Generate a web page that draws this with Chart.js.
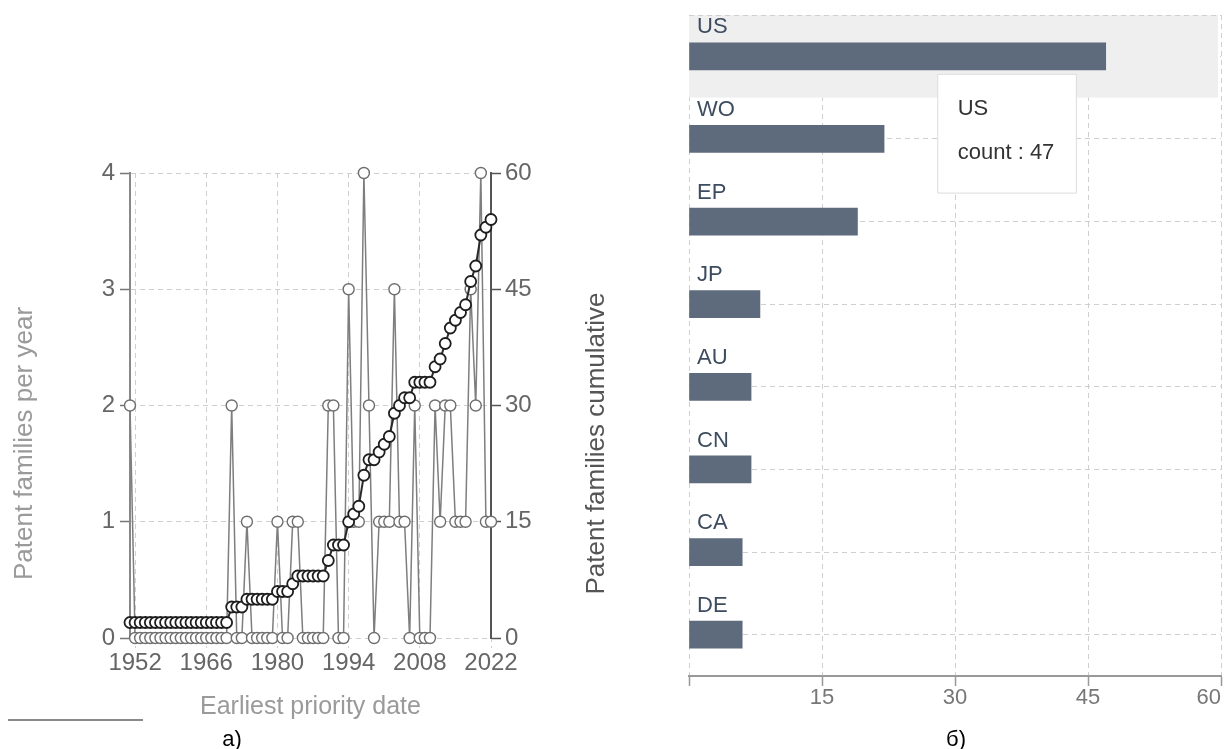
<!DOCTYPE html>
<html>
<head>
<meta charset="utf-8">
<script src="https://cdn.jsdelivr.net/npm/chart.js@4"></script>
<style>
  body { margin: 0; background: #fff; width: 1224px; height: 749px; position: relative; overflow: hidden;
         font-family: 'Liberation Sans', Arial, sans-serif; }
  #left { position: absolute; left: 0; top: 0; }
  #right { position: absolute; left: 660px; top: 0; }
  .rule { position: absolute; left: 8px; top: 719px; width: 135px; height: 2px; background: #8a8a8a; }
  .cap { position: absolute; top: 726px; width: 60px; text-align: center; font-size: 22px; color: #000; }
</style>
</head>
<body>
<canvas id="left" width="650" height="749"></canvas>
<canvas id="right" width="564" height="749"></canvas>
<div class="rule"></div>
<div class="cap" style="left:202px">а)</div>
<div class="cap" style="left:926px">б)</div>

<script>
// données
const years = ['1951','1952','1953','1954','1955','1956','1957','1958','1959',
  '1960','1961','1962','1963','1964','1965','1966','1967','1968','1969',
  '1970','1971','1972','1973','1974','1975','1976','1977','1978','1979',
  '1980','1981','1982','1983','1984','1985','1986','1987','1988','1989',
  '1990','1991','1992','1993','1994','1995','1996','1997','1998','1999',
  '2000','2001','2002','2003','2004','2005','2006','2007','2008','2009',
  '2010','2011','2012','2013','2014','2015','2016','2017','2018','2019',
  '2020','2021','2022'];

const perYear = [2,0,0,0,0,0,0,0,0,
  0,0,0,0,0,0,0,0,0,0,
  0,2,0,0,1,0,0,0,0,0,
  1,0,0,1,1,0,0,0,0,0,
  2,2,0,0,3,1,1,4,2,0,
  1,1,1,3,1,1,0,2,0,0,
  0,2,1,2,2,1,1,1,3,2,
  4,1,1];

const cumulative = [2,2,2,2,2,2,2,2,2,
  2,2,2,2,2,2,2,2,2,2,
  2,4,4,4,5,5,5,5,5,5,
  6,6,6,7,8,8,8,8,8,8,
  10,12,12,12,15,16,17,21,23,23,
  24,25,26,29,30,31,31,33,33,33,
  33,35,36,38,40,41,42,43,46,48,
  52,53,54];

const yearTicks = ['1952','1966','1980','1994','2008','2022'];

const offices = ['US','WO','EP','JP','AU','CN','CA','DE'];
const officeCounts = [47,22,19,8,7,7,6,6];

Chart.defaults.font.family = "'Liberation Sans', Arial, sans-serif";

// titres verticaux (lus de bas en haut des deux côtés)
const sideTitles = {
  id: 'sideTitles',
  afterDraw(chart) {
    const ctx = chart.ctx;
    const a = chart.chartArea;
    const cy = (a.top + a.bottom) / 2 + 38;
    ctx.save();
    ctx.font = "26px 'Liberation Sans', Arial, sans-serif";
    ctx.textAlign = 'center';
    ctx.textBaseline = 'middle';
    ctx.save();
    ctx.translate(25, cy);
    ctx.rotate(-Math.PI / 2);
    ctx.fillStyle = '#9a9a9a';
    ctx.fillText('Patent families per year', 0, 0);
    ctx.restore();
    ctx.translate(chart.scales.y1.right - 53, cy);
    ctx.rotate(-Math.PI / 2);
    ctx.fillStyle = '#555';
    ctx.fillText('Patent families cumulative', 0, 0);
    ctx.restore();
  }
};

new Chart(document.getElementById('left'), {
  type: 'line',
  data: {
    labels: years,
    datasets: [{
      label: 'cumulative',
      data: cumulative,
      yAxisID: 'y1',
      borderColor: '#2a2a2a',
      borderWidth: 2,
      pointRadius: 5.5,
      pointBackgroundColor: '#fff',
      pointBorderColor: '#1e1e1e',
      pointBorderWidth: 1.8,
      clip: false
    },
    {
      label: 'per year',
      data: perYear,
      yAxisID: 'y',
      borderColor: '#7e7e7e',
      borderWidth: 1.5,
      pointRadius: 5.5,
      pointBackgroundColor: '#fff',
      pointBorderColor: '#6e6e6e',
      pointBorderWidth: 1.4,
      clip: false
    }]
  },
  options: {
    responsive: false,
    animation: false,
    layout: { padding: { top: 173, bottom: 27, left: 0, right: 0 } },
    plugins: { legend: { display: false }, tooltip: { enabled: false } },
    scales: {
      x: {
        ticks: {
          autoSkip: false, maxRotation: 0, padding: 1, color: '#666', font: { size: 24 },
          callback: function (v) {
            const l = this.getLabelForValue(v);
            return yearTicks.includes(l) ? l : null;
          }
        },
        grid: { color: '#cfcfcf', tickLength: 10, tickColor: '#cfcfcf', tickBorderDash: [4, 4] },
        border: { display: false, dash: [5, 4] },
        title: { display: true, text: 'Earliest priority date', color: '#9a9a9a', font: { size: 25 }, padding: 0 },
        afterFit(s) { s.height = 84; }
      },
      y: {
        position: 'left', min: 0, max: 4,
        ticks: { stepSize: 1, padding: 5, color: '#666', font: { size: 24 } },
        grid: { color: '#cfcfcf', tickLength: 10, tickColor: '#777', tickWidth: 1.5 },
        border: { display: true, color: '#888', width: 2, dash: [5, 4] },
        afterFit(s) { s.width = 130; }
      },
      y1: {
        position: 'right', min: 0, max: 60,
        ticks: { stepSize: 15, padding: 4, color: '#666', font: { size: 24 } },
        grid: { drawOnChartArea: false, tickLength: 10, tickColor: '#555', tickWidth: 1.5 },
        border: { display: true, color: '#555', width: 2 },
        afterFit(s) { s.width = 159; }
      }
    }
  },
  plugins: [sideTitles]
});

// bande de survol + bord supérieur pointillé
const hoverBand = {
  id: 'hoverBand',
  beforeDatasetsDraw(chart) {
    const ctx = chart.ctx;
    const a = chart.chartArea;
    const half = (a.bottom - a.top) / offices.length / 2;
    const cy = chart.scales.y.getPixelForValue(0);
    ctx.save();
    ctx.fillStyle = '#efefef';
    ctx.fillRect(a.left, cy - half, a.right - a.left - 3, 2 * half);
    ctx.strokeStyle = '#cfcfcf';
    ctx.lineWidth = 1;
    ctx.setLineDash([5, 4]);
    ctx.beginPath();
    ctx.moveTo(a.left, a.top + 0.5);
    ctx.lineTo(a.right, a.top + 0.5);
    ctx.stroke();
    ctx.restore();
  }
};

Chart.Tooltip.positioners.pinned = function (items) {
  if (!items.length) return false;
  const el = items[0].element;
  return { x: el.x - 168, y: el.y + 18, xAlign: 'left', yAlign: 'top' };
};

const barChart = new Chart(document.getElementById('right'), {
  type: 'bar',
  data: {
    labels: offices,
    datasets: [{ label: 'count', data: officeCounts, backgroundColor: '#5e6b7d', barThickness: 27 }]
  },
  options: {
    indexAxis: 'y',
    responsive: false,
    animation: false,
    events: [],
    layout: { padding: { top: 15, right: 3, bottom: 13, left: 0 } },
    plugins: {
      legend: { display: false },
      tooltip: {
        position: 'pinned',
        backgroundColor: '#fff',
        borderColor: '#dcdcdc',
        borderWidth: 1,
        cornerRadius: 0,
        caretSize: 0,
        caretPadding: 0,
        displayColors: false,
        titleColor: '#333',
        bodyColor: '#333',
        titleFont: { size: 22, weight: 'normal' },
        bodyFont: { size: 22 },
        titleMarginBottom: 18,
        padding: { top: 21, right: 22, bottom: 27, left: 20 },
        callbacks: { label: c => c.dataset.label + ' : ' + c.parsed.x }
      }
    },
    scales: {
      x: {
        min: 0, max: 60,
        ticks: { stepSize: 15, align: 'inner', padding: -1, color: '#777', font: { size: 22 },
                 callback: v => (v === 0 ? '' : v) },
        grid: { color: '#cfcfcf', tickLength: 10, tickColor: '#999', tickWidth: 1.5 },
        border: { display: true, color: '#999', width: 2, dash: [5, 4] },
        afterFit(s) { s.height = 60; s.paddingLeft = 0; s.paddingRight = 0; }
      },
      y: {
        grid: { offset: false, color: '#cfcfcf', drawTicks: false },
        border: { display: false, dash: [5, 4] },
        ticks: { mirror: true, padding: 8, labelOffset: -29, color: '#3d4c5e', font: { size: 22 }, z: 1 },
        afterFit(s) { s.width = 29; s.paddingTop = 0; s.paddingBottom = 0; }
      }
    }
  },
  plugins: [hoverBand]
});

barChart.tooltip.setActiveElements([{ datasetIndex: 0, index: 0 }], { x: 0, y: 0 });
barChart.update();
</script>
</body>
</html>
